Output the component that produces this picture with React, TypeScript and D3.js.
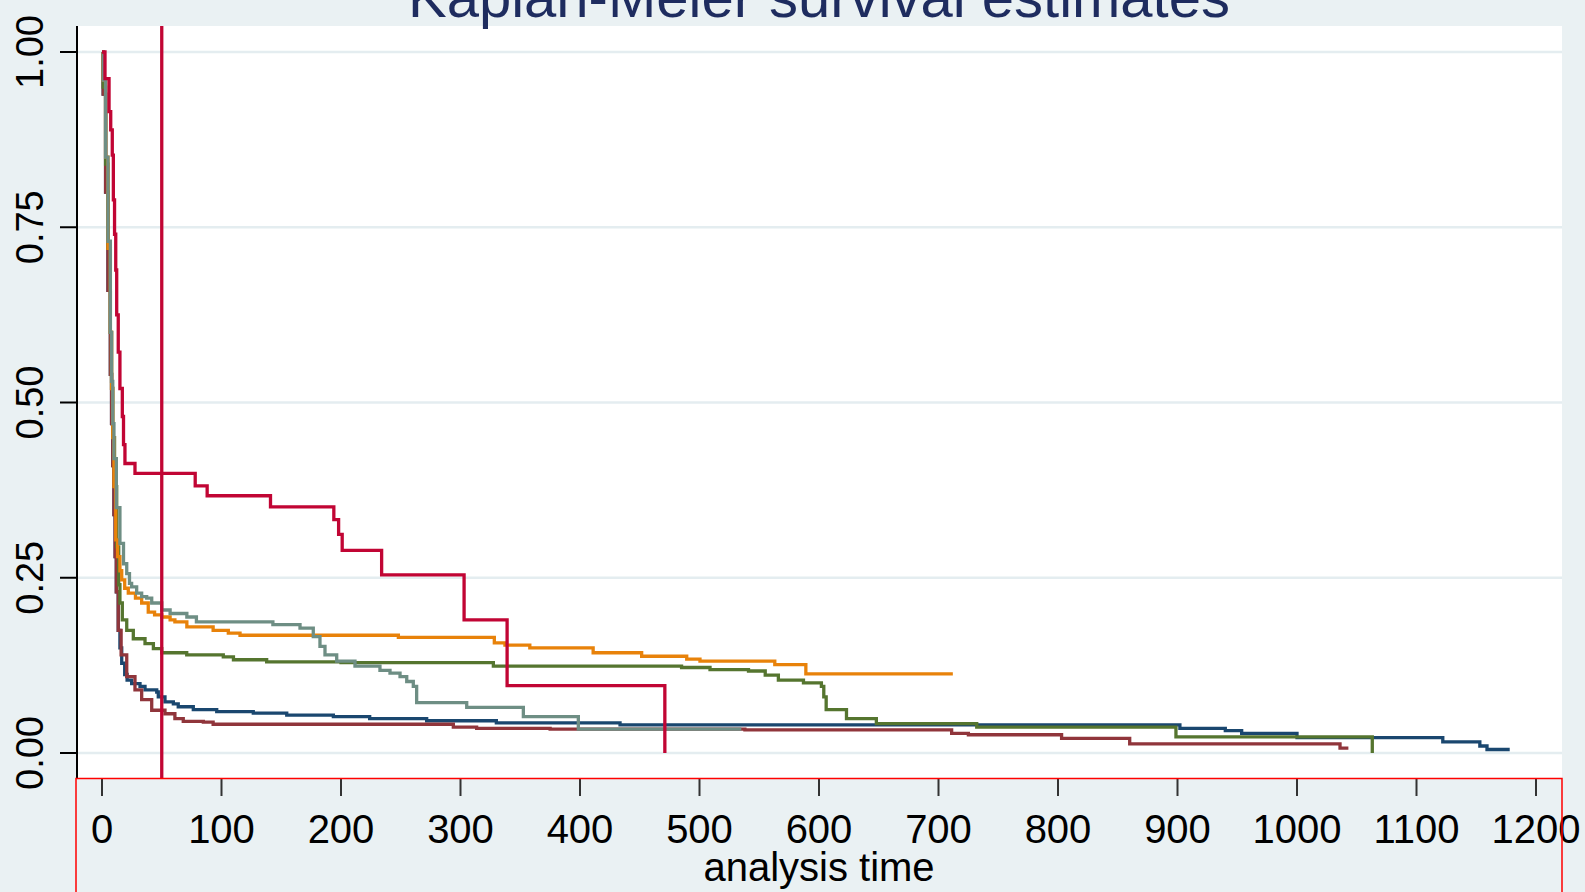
import React from "react";
import * as d3 from "d3";

// Kaplan-Meier estimates, [analysis time, survival]
const navy = [
  [0, 1], [1, 0.94], [3, 0.8], [5, 0.66], [7, 0.54], [8, 0.47], [9, 0.41], [10, 0.34],
  [11, 0.28], [12, 0.23], [13.6, 0.175], [15, 0.15], [16.5, 0.128], [19, 0.112],
  [21, 0.104], [24.8, 0.099], [31.8, 0.095], [36, 0.09], [45.8, 0.087], [47.1, 0.08],
  [52.7, 0.073], [59.7, 0.07], [63.8, 0.066], [76.4, 0.062], [96, 0.059], [126.6, 0.057],
  [154.6, 0.054], [193.6, 0.052], [224, 0.049], [271.7, 0.046], [330, 0.043],
  [433.5, 0.04], [902, 0.035], [940, 0.032], [953.7, 0.028], [1000, 0.022],
  [1122, 0.016], [1153, 0.01], [1159, 0.005], [1178, 0.005],
];
const maroon = [
  [0, 1], [1, 0.94], [3, 0.8], [5, 0.66], [7, 0.54], [8, 0.47], [9, 0.41], [10, 0.34],
  [11, 0.28], [12, 0.23], [13.6, 0.175], [16, 0.14], [20.7, 0.109], [27.6, 0.09],
  [33.2, 0.076], [41.6, 0.061], [52.7, 0.056], [61, 0.049], [68, 0.045], [84.8, 0.044],
  [93, 0.041], [294, 0.037], [313.5, 0.035], [375, 0.034], [538, 0.033], [711, 0.028],
  [725, 0.026], [803, 0.021], [860, 0.013], [1036, 0.007], [1043, 0.007],
];
const forestGreen = [
  [0, 1], [1, 0.95], [3, 0.84], [5, 0.72], [7, 0.6], [8, 0.52], [9, 0.45], [10.5, 0.38],
  [12.3, 0.294], [14, 0.24], [15, 0.214], [17, 0.19], [20.7, 0.175], [26.2, 0.163],
  [36, 0.156], [43, 0.149], [50, 0.143], [70.9, 0.14], [101.5, 0.137], [110, 0.133],
  [137.8, 0.13], [200, 0.129], [327.5, 0.124], [485, 0.122], [508.8, 0.119],
  [541, 0.117], [555, 0.111], [566, 0.104], [587, 0.1], [602, 0.095], [604, 0.08],
  [606, 0.062], [623, 0.049], [648, 0.042], [732, 0.037], [898.7, 0.023], [1063, 0],
];
const dkOrange = [
  [0, 1], [1, 0.96], [3, 0.85], [5, 0.72], [7, 0.6], [8, 0.52], [9, 0.45], [10, 0.38],
  [11.5, 0.304], [13, 0.28], [15, 0.26], [16.5, 0.247], [19, 0.235], [22, 0.228],
  [28, 0.221], [33.2, 0.214], [38.7, 0.201], [44, 0.197], [50, 0.194], [57, 0.19],
  [61, 0.187], [71, 0.18], [93, 0.175], [105.7, 0.171], [115.5, 0.168], [248, 0.165],
  [328.3, 0.157], [337.2, 0.154], [358, 0.15], [411, 0.143], [451.6, 0.138],
  [489.3, 0.134], [500.4, 0.131], [563, 0.126], [589, 0.113], [712, 0.113],
];
const teal = [
  [0, 1], [1, 0.96], [3, 0.85], [5, 0.73], [7, 0.6], [8, 0.53], [9, 0.47], [10, 0.42],
  [12, 0.35], [15, 0.299], [18, 0.27], [20.7, 0.256], [23, 0.242], [24.8, 0.237],
  [29, 0.228], [33.2, 0.223], [37.4, 0.221], [41.6, 0.214], [50, 0.204], [57, 0.199],
  [71, 0.194], [79, 0.187], [143, 0.183], [165.7, 0.178], [176.8, 0.166],
  [182.4, 0.152], [186.6, 0.14], [196.4, 0.131], [211.7, 0.124], [232.6, 0.118],
  [241, 0.114], [249.4, 0.109], [255, 0.102], [260.5, 0.095], [263.3, 0.072],
  [305.2, 0.065], [352.6, 0.052], [398.6, 0.034], [535, 0.034],
];
const cranberry = [
  [0, 1], [2.5, 0.962], [5.9, 0.915], [7.3, 0.889], [8.6, 0.853], [9.5, 0.789],
  [10.5, 0.74], [11.5, 0.689], [12.3, 0.625], [13.6, 0.572], [15, 0.52], [17, 0.48],
  [18, 0.44], [19.2, 0.413], [27.6, 0.399], [78, 0.381], [88, 0.367], [141, 0.351],
  [194, 0.333], [198, 0.312], [201, 0.289], [234, 0.254], [303, 0.19], [339, 0.096],
  [471, 0],
];

const series = [
  { name: "navy", color: "#1a476f", values: navy },
  { name: "maroon", color: "#90353b", values: maroon },
  { name: "forest_green", color: "#55752f", values: forestGreen },
  { name: "dkorange", color: "#e8820a", values: dkOrange },
  { name: "teal", color: "#6e8e84", values: teal },
  { name: "cranberry", color: "#c10534", values: cranberry },
];

const xTicks = [0, 100, 200, 300, 400, 500, 600, 700, 800, 900, 1000, 1100, 1200];
const yTicks = [0, 0.25, 0.5, 0.75, 1];
const yTickLabels = ["0.00", "0.25", "0.50", "0.75", "1.00"];
const xLineAt = 50;

const W = 1585;
const H = 892;
const plot = { left: 76, right: 1562, top: 26, bottom: 778 };
const font = "'Liberation Sans', Arial, sans-serif";

export default function App() {
  const x = d3.scaleLinear().domain([0, 1200]).range([102, 1536]);
  const y = d3.scaleLinear().domain([0, 1]).range([753, 52]);

  const line = d3
    .line<number[]>()
    .x((d) => x(d[0]))
    .y((d) => y(d[1]))
    .curve(d3.curveStepAfter);

  return (
    <div style={{ position: "fixed", left: 0, top: 0 }}>
      <svg width={W} height={H} style={{ display: "block" }}>
        <rect x={0} y={0} width={W} height={H} fill="#eaf1f3" />
        <rect
          x={plot.left}
          y={plot.top}
          width={plot.right - plot.left}
          height={plot.bottom - plot.top}
          fill="#ffffff"
        />

        {/* title, clipped at the top of the image */}
        <text
          x={819}
          y={17}
          textAnchor="middle"
          fontFamily={font}
          fontSize={58}
          fill="#1e2c5f"
        >
          Kaplan-Meier survival estimates
        </text>

        {/* grid */}
        {yTicks.map((t) => (
          <line
            key={"g" + t}
            x1={plot.left}
            x2={plot.right}
            y1={y(t)}
            y2={y(t)}
            stroke="#e4edf0"
            strokeWidth={2.5}
          />
        ))}

        {/* curves */}
        {series.map((s) => (
          <path
            key={s.name}
            d={line(s.values) || ""}
            fill="none"
            stroke={s.color}
            strokeWidth={3.3}
            strokeLinejoin="miter"
          />
        ))}

        {/* xline */}
        <line
          x1={x(xLineAt)}
          x2={x(xLineAt)}
          y1={plot.top}
          y2={plot.bottom}
          stroke="#c10534"
          strokeWidth={3.3}
        />

        {/* y axis */}
        <line x1={77} x2={77} y1={plot.top} y2={plot.bottom} stroke="#000" strokeWidth={2} />
        {yTicks.map((t, i) => (
          <g key={"y" + t}>
            <line x1={60} x2={77} y1={y(t)} y2={y(t)} stroke="#000" strokeWidth={2} />
            <text
              transform={`translate(43,${y(t)}) rotate(-90)`}
              textAnchor="middle"
              fontFamily={font}
              fontSize={38}
              fill="#000"
            >
              {yTickLabels[i]}
            </text>
          </g>
        ))}

        {/* x axis */}
        {xTicks.map((t) => (
          <g key={"x" + t}>
            <line x1={x(t)} x2={x(t)} y1={779} y2={796} stroke="#333" strokeWidth={2} />
            <text
              x={x(t)}
              y={843}
              textAnchor="middle"
              fontFamily={font}
              fontSize={40}
              fill="#000"
            >
              {t}
            </text>
          </g>
        ))}
        <text x={819} y={881} textAnchor="middle" fontFamily={font} fontSize={40} fill="#000">
          analysis time
        </text>

        {/* red outline around the x axis area */}
        <path
          d={`M${plot.left},${H + 2}V${plot.bottom + 0.5}H${plot.right}V${H + 2}`}
          fill="none"
          stroke="#ff0000"
          strokeWidth={1.5}
        />
      </svg>
    </div>
  );
}
